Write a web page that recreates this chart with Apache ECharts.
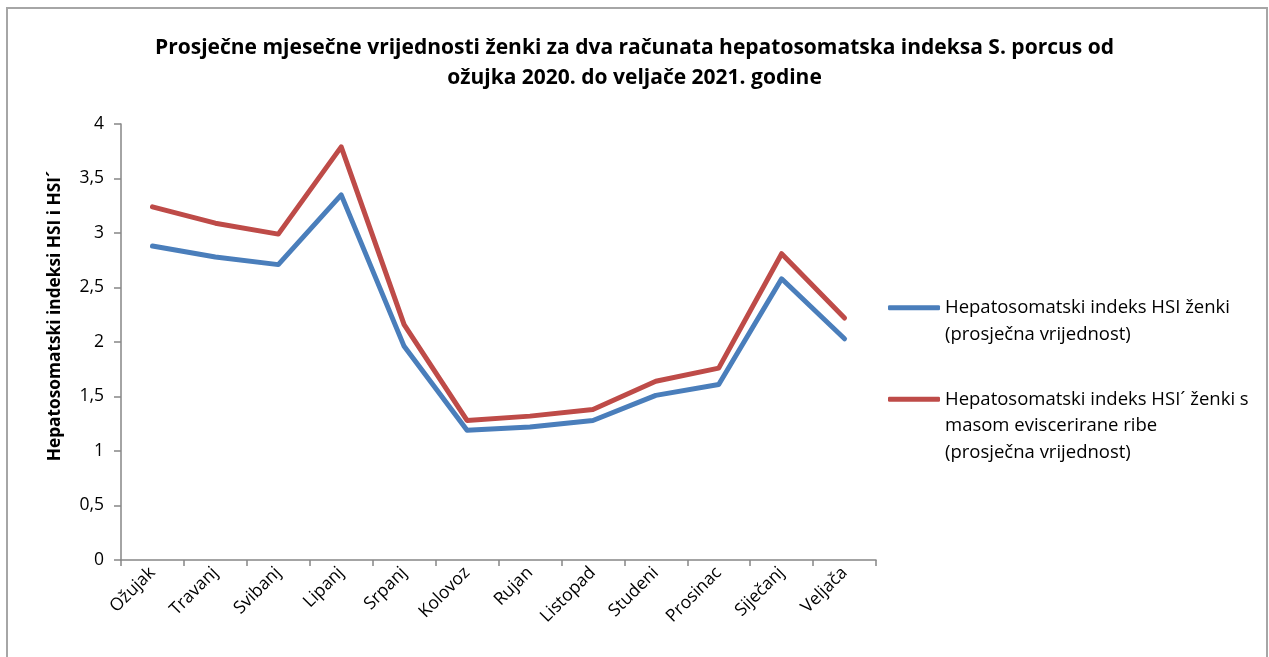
<!DOCTYPE html>
<html>
<head>
<meta charset="utf-8">
<script src="https://cdn.jsdelivr.net/npm/echarts@6/dist/echarts.min.js"></script>
<style>
  html, body { margin: 0; padding: 0; background: #fff; }
  #chart { width: 1269px; height: 657px; }
</style>
</head>
<body>
<div id="chart"></div>
<script>
// Months (March 2020 – February 2021)
const months = ['Ožujak', 'Travanj', 'Svibanj', 'Lipanj', 'Srpanj', 'Kolovoz',
                'Rujan', 'Listopad', 'Studeni', 'Prosinac', 'Siječanj', 'Veljača'];

// Mean monthly HSI of females
const hsi = [2.88, 2.78, 2.71, 3.35, 1.96, 1.19, 1.22, 1.28, 1.51, 1.61, 2.58, 2.03];

// Mean monthly HSI´ of females (eviscerated mass)
const hsiEvisc = [3.24, 3.09, 2.99, 3.79, 2.16, 1.28, 1.32, 1.38, 1.64, 1.76, 2.81, 2.22];

const seriesNames = [
  'Hepatosomatski indeks HSI ženki\n(prosječna vrijednost)',
  'Hepatosomatski indeks HSI´ ženki s\nmasom eviscerirane ribe\n(prosječna vrijednost)'
];

const titleText = 'Prosječne mjesečne vrijednosti ženki za dva računata hepatosomatska indeksa S. porcus od\nožujka 2020. do veljače 2021. godine';
const yAxisName = 'Hepatosomatski indeksi HSI i HSI´';

const FONT = '"Open Sans", "Noto Sans", sans-serif';
const BLUE = '#4a7ebb';
const RED = '#be4b48';
const AXIS = '#868686';
const LEGEND_LH = 26.5;

// The legend icon sits level with the first text line: pad the label with
// blank lines above so the first line lands in the vertical middle.
function legendLabel(name) {
  const extra = name.split('\n').length - 1;
  return '\n'.repeat(extra) + name;
}

function legendFor(idx, top) {
  return {
    show: true,
    orient: 'vertical',
    left: 883,
    top: top,
    icon: 'roundRect',
    itemWidth: 52,
    itemHeight: 5,
    itemGap: 0,
    selectedMode: false,
    data: [seriesNames[idx]],
    formatter: legendLabel,
    textStyle: {
      fontFamily: FONT,
      fontSize: 18.5,
      color: '#000',
      lineHeight: LEGEND_LH
    }
  };
}

const chart = echarts.init(document.getElementById('chart'), null, { renderer: 'canvas' });

chart.setOption({
  backgroundColor: '#fff',
  animation: false,
  title: {
    text: titleText,
    left: 'center',
    top: 28,
    textStyle: {
      fontFamily: FONT,
      fontSize: 21,
      fontWeight: 'bold',
      color: '#000',
      lineHeight: 30
    }
  },
  graphic: [{
    type: 'rect',
    shape: { x: 7, y: 8, width: 1260, height: 700 },
    style: { fill: 'none', stroke: '#a6a6a6', lineWidth: 2 },
    silent: true,
    z: -1
  }],
  legend: [
    legendFor(0, 263),
    legendFor(1, 328)
  ],
  grid: {
    left: 121,
    right: 393,
    top: 124,
    bottom: 97,
    containLabel: false
  },
  xAxis: {
    type: 'category',
    data: months,
    boundaryGap: true,
    axisLine: { lineStyle: { color: AXIS, width: 1.5 } },
    axisTick: { show: true, length: 6, alignWithLabel: false, lineStyle: { color: AXIS, width: 1.5 } },
    axisLabel: {
      rotate: 45,
      interval: 0,
      margin: 10,
      fontFamily: FONT,
      fontSize: 17.5,
      color: '#000'
    },
    splitLine: { show: false }
  },
  yAxis: {
    type: 'value',
    min: 0,
    max: 4,
    interval: 0.5,
    name: yAxisName,
    nameLocation: 'middle',
    nameGap: 57,
    nameRotate: 90,
    nameTextStyle: {
      fontFamily: FONT,
      fontSize: 17.3,
      fontWeight: 'bold',
      color: '#000',
      padding: [0, 0, 0, 52]
    },
    axisLine: { show: true, lineStyle: { color: AXIS, width: 1.5 } },
    axisTick: { show: true, length: 7, lineStyle: { color: AXIS, width: 1.5 } },
    axisLabel: {
      margin: 17,
      fontFamily: FONT,
      fontSize: 17.5,
      color: '#000',
      formatter: v => String(v).replace('.', ',')
    },
    splitLine: { show: false }
  },
  series: [
    {
      name: seriesNames[0],
      type: 'line',
      data: hsi,
      symbol: 'none',
      lineStyle: { color: BLUE, width: 5, cap: 'round', join: 'round' },
      itemStyle: { color: BLUE },
      z: 3
    },
    {
      name: seriesNames[1],
      type: 'line',
      data: hsiEvisc,
      symbol: 'none',
      lineStyle: { color: RED, width: 5, cap: 'round', join: 'round' },
      itemStyle: { color: RED },
      z: 2
    }
  ]
});
</script>
</body>
</html>
